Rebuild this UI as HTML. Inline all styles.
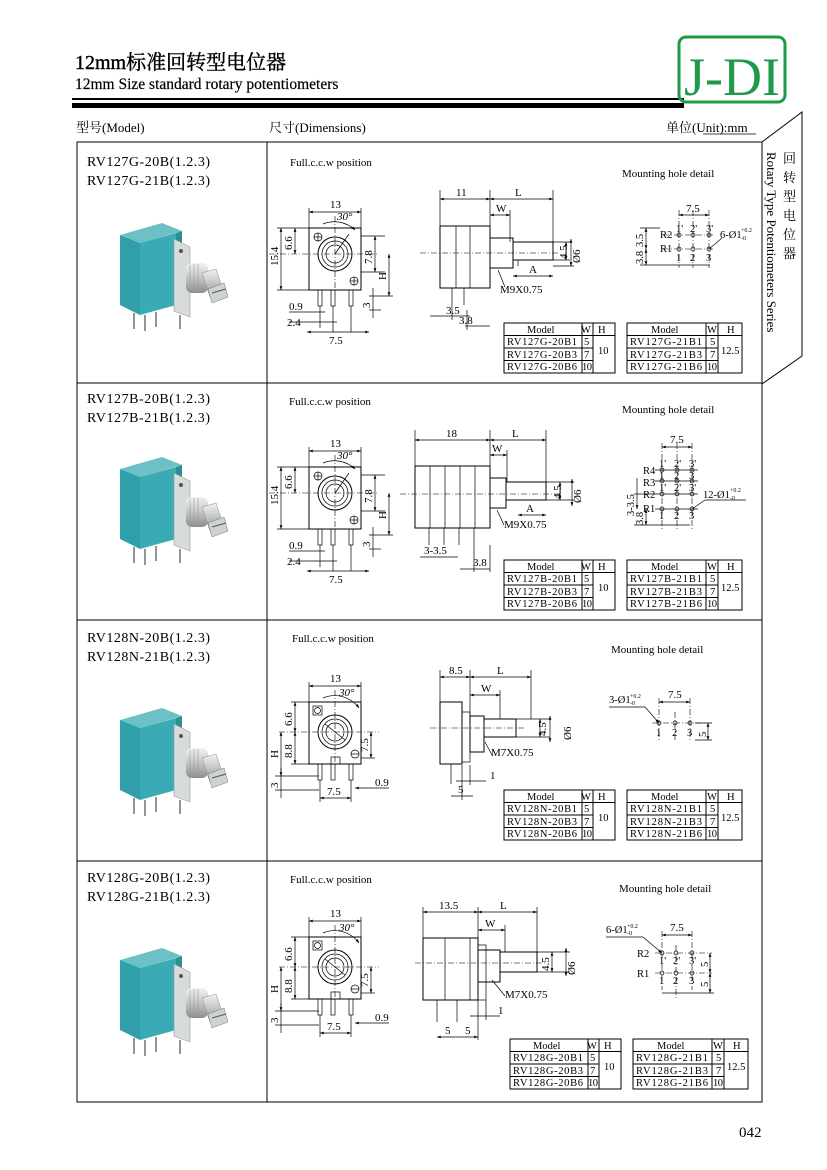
<!DOCTYPE html>
<html><head><meta charset="utf-8"><style>
html,body{margin:0;padding:0;background:#fff}
svg{display:block}
text{font-family:"Liberation Serif","Noto Serif CJK SC","Noto Sans CJK SC",serif;fill:#000}
.s{font-size:11px}
.m{font-size:10.5px}
.d{font-size:11px}
.ln{stroke:#000;stroke-width:1;fill:none}
.th{stroke:#000;stroke-width:0.7;fill:none}
.cl{stroke:#000;stroke-width:0.6;stroke-dasharray:6 2 1 2;fill:none}
.tb text{font-size:10.5px}
</style></head><body>
<svg width="827" height="1170" viewBox="0 0 827 1170" xmlns="http://www.w3.org/2000/svg">
<defs>
<marker id="a" viewBox="0 0 8 6" refX="8" refY="3" markerWidth="6" markerHeight="4" orient="auto-start-reverse"><path d="M0,0 L8,3 L0,6 z" fill="#000"/></marker>
<linearGradient id="sv" x1="0" y1="0" x2="0" y2="1"><stop offset="0" stop-color="#f2f2f2"/><stop offset="0.5" stop-color="#c4c6c6"/><stop offset="1" stop-color="#8c8e8e"/></linearGradient>
<g id="photo">
  <polygon points="30,42 72,30 92,38 50,50" fill="#6cc0c6"/>
  <polygon points="30,42 50,50 50,122 30,112" fill="#2f9faa"/>
  <polygon points="50,50 86,40 86,112 50,122" fill="#3aaab5"/>
  <polygon points="86,40 92,38 92,110 86,112" fill="#2b8e98"/>
  <polygon points="84,46 100,54 100,124 84,118" fill="#d8dbdb" stroke="#9a9a9a" stroke-width="0.6"/>
  <circle cx="91" cy="58" r="2" fill="#555"/>
  <rect x="96" y="70" width="22" height="30" rx="6" fill="url(#sv)"/>
  <line x1="100" y1="72" x2="100" y2="98" stroke="#999" stroke-width="0.6"/>
  <line x1="104" y1="71" x2="104" y2="99" stroke="#999" stroke-width="0.6"/>
  <line x1="108" y1="71" x2="108" y2="99" stroke="#999" stroke-width="0.6"/>
  <polygon points="112,80 126,76 134,100 120,104" fill="url(#sv)" stroke="#888" stroke-width="0.5"/>
  <polygon points="118,96 134,90 138,104 122,110" fill="#cfd2d2" stroke="#777" stroke-width="0.5"/>
  <line x1="122" y1="100" x2="136" y2="96" stroke="#555" stroke-width="1"/>
  <line x1="44" y1="120" x2="44" y2="136" stroke="#666" stroke-width="1.4"/>
  <line x1="55" y1="122" x2="55" y2="138" stroke="#666" stroke-width="1.4"/>
  <line x1="66" y1="119" x2="66" y2="134" stroke="#666" stroke-width="1.4"/>
  <line x1="90" y1="122" x2="90" y2="136" stroke="#666" stroke-width="1.4"/>
</g>
<g id="tl">
  <rect x="0" y="0" width="111" height="50" class="ln"/>
  <line x1="0" y1="12.5" x2="111" y2="12.5" class="ln"/>
  <line x1="0" y1="25" x2="89" y2="25" class="ln"/>
  <line x1="0" y1="37.5" x2="89" y2="37.5" class="ln"/>
  <line x1="78" y1="0" x2="78" y2="50" class="ln"/>
  <line x1="89" y1="0" x2="89" y2="50" class="ln"/>
</g>
<g id="tr">
  <rect x="0" y="0" width="115" height="50" class="ln"/>
  <line x1="0" y1="12.5" x2="115" y2="12.5" class="ln"/>
  <line x1="0" y1="25" x2="91" y2="25" class="ln"/>
  <line x1="0" y1="37.5" x2="91" y2="37.5" class="ln"/>
  <line x1="79" y1="0" x2="79" y2="50" class="ln"/>
  <line x1="91" y1="0" x2="91" y2="50" class="ln"/>
</g>
<g id="fa">
  <rect x="0" y="0" width="52" height="62" class="ln"/>
  <circle cx="26" cy="26" r="17" class="ln"/><circle cx="26" cy="26" r="13" class="th"/><circle cx="26" cy="26" r="9" class="th"/>
  <circle cx="9" cy="9" r="4" class="th"/><line x1="5" y1="9" x2="13" y2="9" class="th"/><line x1="9" y1="5" x2="9" y2="13" class="th"/>
  <circle cx="45" cy="53" r="4" class="th"/><line x1="41" y1="53" x2="49" y2="53" class="th"/><line x1="45" y1="49" x2="45" y2="57" class="th"/>
  <rect x="9" y="62" width="4" height="16" class="th"/><rect x="22" y="62" width="4" height="16" class="th"/><rect x="40" y="62" width="4" height="16" class="th"/>
  <line x1="-40" y1="26" x2="70" y2="26" class="cl"/><line x1="26" y1="-12" x2="26" y2="62" class="cl"/>
  <line x1="26" y1="26" x2="40" y2="6" class="th"/>
  <path d="M14,-4 A30,30 0 0 1 46,2" class="th" marker-end="url(#a)"/>
  <line x1="0" y1="-20" x2="0" y2="0" class="th"/><line x1="52" y1="-20" x2="52" y2="0" class="th"/>
  <line x1="0" y1="-16" x2="52" y2="-16" class="th" marker-start="url(#a)" marker-end="url(#a)"/>
  <line x1="-32" y1="0" x2="0" y2="0" class="th"/><line x1="-32" y1="62" x2="0" y2="62" class="th"/>
  <line x1="-28" y1="0" x2="-28" y2="62" class="th" marker-start="url(#a)" marker-end="url(#a)"/>
  <line x1="-14" y1="0" x2="-14" y2="26" class="th" marker-start="url(#a)" marker-end="url(#a)"/>
  <line x1="52" y1="8" x2="76" y2="8" class="th"/><line x1="52" y1="44" x2="76" y2="44" class="th"/>
  <line x1="66" y1="8" x2="66" y2="44" class="th" marker-start="url(#a)" marker-end="url(#a)"/>
  <line x1="80" y1="26" x2="80" y2="68" class="th" marker-start="url(#a)" marker-end="url(#a)"/>
  <line x1="60" y1="68" x2="84" y2="68" class="th"/><line x1="60" y1="82" x2="72" y2="82" class="th"/>
  <line x1="64" y1="60" x2="64" y2="90" class="th"/>
  <line x1="-20" y1="84" x2="16" y2="84" class="th"/><line x1="-20" y1="94" x2="28" y2="94" class="th"/>
  <line x1="11" y1="78" x2="11" y2="100" class="th"/><line x1="24" y1="78" x2="24" y2="104" class="th"/><line x1="42" y1="78" x2="42" y2="104" class="th"/>
  <line x1="-2" y1="104" x2="60" y2="104" class="th" marker-start="url(#a)" marker-end="url(#a)"/>
  <text class="d" x="21" y="-20">13</text>
  <text class="d" x="28" y="-8" font-style="italic">30°</text>
  <text class="d" transform="translate(-31,38) rotate(-90)">15.4</text>
  <text class="d" transform="translate(-17,22) rotate(-90)">6.6</text>
  <text class="d" transform="translate(63,36) rotate(-90)">7.8</text>
  <text class="d" transform="translate(77,52) rotate(-90)">H</text>
  <text class="d" transform="translate(61,80) rotate(-90)">3</text>
  <text class="d" x="-20" y="82">0.9</text>
  <text class="d" x="-22" y="98">2.4</text>
  <text class="d" x="20" y="116">7.5</text>
</g>
<g id="fb">
  <rect x="0" y="0" width="52" height="62" class="ln"/>
  <circle cx="26" cy="30" r="17" class="ln"/><circle cx="26" cy="30" r="13" class="th"/><circle cx="26" cy="30" r="9" class="th"/>
  <line x1="16" y1="22" x2="36" y2="38" class="th"/>
  <rect x="4" y="4" width="9" height="9" class="th"/><circle cx="8.5" cy="8.5" r="3" class="th"/>
  <circle cx="46" cy="52" r="4" class="th"/><line x1="42" y1="52" x2="50" y2="52" class="th"/>
  <rect x="22" y="55" width="9" height="7" class="th"/>
  <rect x="9" y="62" width="4" height="16" class="th"/><rect x="22" y="62" width="4" height="16" class="th"/><rect x="40" y="62" width="4" height="16" class="th"/>
  <line x1="-30" y1="30" x2="70" y2="30" class="cl"/><line x1="26" y1="-12" x2="26" y2="62" class="cl"/>
  <path d="M14,-4 A30,30 0 0 1 50,6" class="th" marker-end="url(#a)"/>
  <line x1="0" y1="-20" x2="0" y2="0" class="th"/><line x1="52" y1="-20" x2="52" y2="0" class="th"/>
  <line x1="0" y1="-16" x2="52" y2="-16" class="th" marker-start="url(#a)" marker-end="url(#a)"/>
  <line x1="-18" y1="0" x2="0" y2="0" class="th"/><line x1="-18" y1="62" x2="0" y2="62" class="th"/>
  <line x1="-14" y1="0" x2="-14" y2="30" class="th" marker-start="url(#a)" marker-end="url(#a)"/>
  <line x1="-14" y1="30" x2="-14" y2="62" class="th" marker-start="url(#a)" marker-end="url(#a)"/>
  <line x1="-28" y1="30" x2="-28" y2="74" class="th" marker-start="url(#a)" marker-end="url(#a)"/>
  <line x1="-34" y1="74" x2="10" y2="74" class="th"/><line x1="-34" y1="88" x2="10" y2="88" class="th"/>
  <line x1="-28" y1="66" x2="-28" y2="96" class="th"/>
  <line x1="52" y1="56" x2="66" y2="56" class="th"/>
  <line x1="62" y1="30" x2="62" y2="56" class="th" marker-start="url(#a)" marker-end="url(#a)"/>
  <line x1="46" y1="86" x2="80" y2="86" class="th" marker-start="url(#a)"/>
  <line x1="11" y1="78" x2="11" y2="100" class="th"/><line x1="42" y1="78" x2="42" y2="100" class="th"/>
  <line x1="11" y1="96" x2="42" y2="96" class="th" marker-start="url(#a)" marker-end="url(#a)"/>
  <text class="d" x="21" y="-20">13</text>
  <text class="d" x="30" y="-6" font-style="italic">30°</text>
  <text class="d" transform="translate(-17,24) rotate(-90)">6.6</text>
  <text class="d" transform="translate(-17,56) rotate(-90)">8.8</text>
  <text class="d" transform="translate(-31,56) rotate(-90)">H</text>
  <text class="d" transform="translate(-31,86) rotate(-90)">3</text>
  <text class="d" transform="translate(59,50) rotate(-90)">7.5</text>
  <text class="d" x="66" y="84">0.9</text>
  <text class="d" x="18" y="93">7.5</text>
</g>
</defs>

<!-- header -->
<text x="75" y="69" font-size="20" stroke="#000" stroke-width="0.4">12mm标准回转型电位器</text>
<text x="75" y="89" font-size="15.5" stroke="#000" stroke-width="0.2">12mm Size  standard  rotary  potentiometers</text>
<rect x="72" y="98" width="612" height="2" fill="#000"/>
<rect x="72" y="103" width="612" height="5" fill="#000"/>
<rect x="679" y="37" width="106" height="65" rx="7" fill="none" stroke="#1f9a4a" stroke-width="3"/>
<text x="684" y="95" font-size="54" style="fill:#1f9a4a" textLength="96" lengthAdjust="spacingAndGlyphs">J-DI</text>
<text x="76" y="132" font-size="13">型号(Model)</text>
<text x="269" y="132" font-size="13">尺寸(Dimensions)</text>
<text x="666" y="132" font-size="13">单位(Unit):mm</text>
<line x1="703" y1="134" x2="756" y2="134" stroke="#000" stroke-width="0.8"/>

<!-- frame -->
<rect x="77" y="142" width="685" height="960" class="ln" stroke-width="1.3"/>
<line x1="267" y1="142" x2="267" y2="1102" class="ln" stroke-width="1.3"/>
<line x1="77" y1="383" x2="762" y2="383" class="ln" stroke-width="1.3"/>
<line x1="77" y1="620" x2="762" y2="620" class="ln" stroke-width="1.3"/>
<line x1="77" y1="861" x2="762" y2="861" class="ln" stroke-width="1.3"/>
<polyline points="762,142 802,112 802,356 762,384" class="ln" stroke-width="1.3"/>
<text font-size="13" x="783" y="163">回</text>
<text font-size="13" x="783" y="182">转</text>
<text font-size="13" x="783" y="201">型</text>
<text font-size="13" x="783" y="220">电</text>
<text font-size="13" x="783" y="239">位</text>
<text font-size="13" x="783" y="258">器</text>
<text font-size="13" transform="translate(767,152) rotate(90)">Rotary Type Potentiometers Series</text>

<!-- left column -->
<text x="87" y="166" font-size="14" textLength="123">RV127G-20B(1.2.3)</text>
<text x="87" y="185" font-size="14" textLength="123">RV127G-21B(1.2.3)</text>
<use href="#photo" x="90" y="193"/>
<text x="87" y="403" font-size="14" textLength="123">RV127B-20B(1.2.3)</text>
<text x="87" y="422" font-size="14" textLength="123">RV127B-21B(1.2.3)</text>
<use href="#photo" x="90" y="427"/>
<text x="87" y="642" font-size="14" textLength="123">RV128N-20B(1.2.3)</text>
<text x="87" y="661" font-size="14" textLength="123">RV128N-21B(1.2.3)</text>
<use href="#photo" x="90" y="678"/>
<text x="87" y="882" font-size="14" textLength="123">RV128G-20B(1.2.3)</text>
<text x="87" y="901" font-size="14" textLength="123">RV128G-21B(1.2.3)</text>
<use href="#photo" x="90" y="918"/>

<!-- ROW 1 -->
<text class="s" x="290" y="166">Full.c.c.w position</text>
<text class="s" x="622" y="177">Mounting  hole  detail</text>
<use href="#fa" x="309" y="228"/>
<g>
  <rect x="440" y="226" width="50" height="62" class="ln"/>
  <line x1="456" y1="226" x2="456" y2="288" class="th"/><line x1="470" y1="226" x2="470" y2="288" class="th"/>
  <rect x="490" y="238" width="23" height="30" class="ln"/>
  <rect x="513" y="242" width="40" height="18" class="ln"/>
  <line x1="518" y1="260" x2="518" y2="266" class="th"/>
  <line x1="420" y1="253" x2="560" y2="253" class="cl"/>
  <line x1="452" y1="288" x2="452" y2="305" class="th"/><line x1="464" y1="288" x2="464" y2="305" class="th"/>
  <line x1="440" y1="190" x2="440" y2="226" class="th"/><line x1="490" y1="190" x2="490" y2="238" class="th"/><line x1="553" y1="190" x2="553" y2="242" class="th"/>
  <line x1="440" y1="199" x2="490" y2="199" class="th" marker-start="url(#a)" marker-end="url(#a)"/>
  <line x1="490" y1="199" x2="553" y2="199" class="th" marker-start="url(#a)" marker-end="url(#a)"/>
  <line x1="490" y1="215" x2="510" y2="215" class="th" marker-start="url(#a)" marker-end="url(#a)"/>
  <line x1="510" y1="210" x2="510" y2="242" class="th"/>
  <line x1="513" y1="276" x2="553" y2="276" class="th" marker-start="url(#a)" marker-end="url(#a)"/>
  <line x1="553" y1="242" x2="570" y2="242" class="th"/><line x1="553" y1="260" x2="570" y2="260" class="th"/><line x1="553" y1="266" x2="574" y2="266" class="th"/>
  <line x1="566" y1="242" x2="566" y2="260" class="th" marker-start="url(#a)" marker-end="url(#a)"/>
  <line x1="571" y1="239" x2="571" y2="266" class="th" marker-start="url(#a)" marker-end="url(#a)"/>
  <line x1="498" y1="270" x2="505" y2="287" class="th"/>
  <text class="d" x="456" y="196">11</text><text class="d" x="515" y="196">L</text>
  <text class="d" x="496" y="212">W</text><text class="d" x="529" y="273">A</text>
  <text class="d" transform="translate(567,259) rotate(-90)">4.5</text>
  <text class="d" transform="translate(580,263) rotate(-90)">Ø6</text>
  <text class="d" x="500" y="293">M9X0.75</text>
  <line x1="430" y1="316" x2="470" y2="316" class="th"/><line x1="452" y1="305" x2="452" y2="320" class="th"/>
  <line x1="465" y1="326" x2="490" y2="326" class="th"/><line x1="467" y1="310" x2="467" y2="330" class="th"/>
  <text class="d" x="446" y="314">3.5</text><text class="d" x="459" y="324">3.8</text>
</g>
<g>
  <line x1="679" y1="215" x2="709" y2="215" class="th" marker-start="url(#a)" marker-end="url(#a)"/>
  <text class="d" x="686" y="212">7.5</text>
  <line x1="679" y1="210" x2="679" y2="268" class="cl"/><line x1="693" y1="210" x2="693" y2="268" class="cl"/><line x1="709" y1="210" x2="709" y2="268" class="cl"/>
  <line x1="663" y1="235" x2="715" y2="235" class="cl"/><line x1="663" y1="249" x2="715" y2="249" class="cl"/>
  <circle cx="679" cy="235" r="2" class="th"/><circle cx="693" cy="235" r="2" class="th"/><circle cx="709" cy="235" r="2" class="th"/>
  <circle cx="679" cy="249" r="2" class="th"/><circle cx="693" cy="249" r="2" class="th"/><circle cx="709" cy="249" r="2" class="th"/>
  <text class="m" x="676" y="232">1'</text><text class="m" x="690" y="232">2'</text><text class="m" x="706" y="232">3'</text>
  <text class="m" x="676" y="261">1</text><text class="m" x="690" y="261">2</text><text class="m" x="706" y="261">3</text>
  <text class="m" x="660" y="238">R2</text><text class="m" x="660" y="252">R1</text>
  <text class="m" x="720" y="238">6-Ø1</text><text font-size="6" x="741" y="232">+0.2</text><text font-size="6" x="741" y="240">-0</text>
  <line x1="709" y1="249" x2="722" y2="238" class="th"/>
  <line x1="640" y1="228" x2="660" y2="228" class="th"/><line x1="640" y1="265" x2="710" y2="265" class="th"/>
  <line x1="646" y1="228" x2="646" y2="249" class="th" marker-start="url(#a)" marker-end="url(#a)"/>
  <line x1="646" y1="249" x2="646" y2="265" class="th" marker-start="url(#a)" marker-end="url(#a)"/>
  <text class="m" transform="translate(643,247) rotate(-90)">3.5</text>
  <text class="m" transform="translate(643,264) rotate(-90)">3.8</text>
</g>
<use href="#tl" x="504" y="323"/><use href="#tr" x="627" y="323"/>
<g class="tb">
<text x="527" y="333">Model</text><text x="581" y="333">W</text><text x="598" y="333">H</text>
<text x="507" y="345" textLength="70">RV127G-20B1</text><text x="584" y="345">5</text>
<text x="507" y="358" textLength="70">RV127G-20B3</text><text x="584" y="358">7</text><text x="598" y="354">10</text>
<text x="507" y="370" textLength="70">RV127G-20B6</text><text x="582" y="370" textLength="10">10</text>
<text x="651" y="333">Model</text><text x="707" y="333">W</text><text x="727" y="333">H</text>
<text x="630" y="345" textLength="72">RV127G-21B1</text><text x="710" y="345">5</text>
<text x="630" y="358" textLength="72">RV127G-21B3</text><text x="710" y="358">7</text><text x="721" y="354">12.5</text>
<text x="630" y="370" textLength="72">RV127G-21B6</text><text x="707" y="370" textLength="10">10</text>
</g>

<!-- ROW 2 -->
<text class="s" x="289" y="405">Full.c.c.w position</text>
<text class="s" x="622" y="413">Mounting  hole  detail</text>
<use href="#fa" x="309" y="467"/>
<g>
  <rect x="415" y="466" width="75" height="62" class="ln"/>
  <line x1="430" y1="466" x2="430" y2="528" class="th"/><line x1="445" y1="466" x2="445" y2="528" class="th"/><line x1="460" y1="466" x2="460" y2="528" class="th"/><line x1="475" y1="466" x2="475" y2="528" class="th"/>
  <rect x="490" y="478" width="16" height="30" class="ln"/>
  <rect x="506" y="482" width="40" height="18" class="ln"/>
  <line x1="400" y1="494" x2="560" y2="494" class="cl"/>
  <line x1="429" y1="528" x2="429" y2="545" class="th"/><line x1="444" y1="528" x2="444" y2="545" class="th"/><line x1="459" y1="528" x2="459" y2="545" class="th"/><line x1="474" y1="528" x2="474" y2="545" class="th"/>
  <line x1="415" y1="430" x2="415" y2="466" class="th"/><line x1="490" y1="430" x2="490" y2="478" class="th"/><line x1="546" y1="430" x2="546" y2="482" class="th"/>
  <line x1="415" y1="440" x2="490" y2="440" class="th" marker-start="url(#a)" marker-end="url(#a)"/>
  <line x1="490" y1="440" x2="546" y2="440" class="th" marker-start="url(#a)" marker-end="url(#a)"/>
  <line x1="490" y1="455" x2="507" y2="455" class="th" marker-start="url(#a)" marker-end="url(#a)"/>
  <line x1="507" y1="450" x2="507" y2="482" class="th"/>
  <line x1="518" y1="515" x2="546" y2="515" class="th" marker-start="url(#a)" marker-end="url(#a)"/>
  <line x1="546" y1="482" x2="574" y2="482" class="th"/><line x1="546" y1="500" x2="574" y2="500" class="th"/>
  <line x1="560" y1="482" x2="560" y2="500" class="th" marker-start="url(#a)" marker-end="url(#a)"/>
  <line x1="572" y1="479" x2="572" y2="506" class="th" marker-start="url(#a)" marker-end="url(#a)"/>
  <line x1="497" y1="510" x2="504" y2="525" class="th"/>
  <text class="d" x="446" y="437">18</text><text class="d" x="512" y="437">L</text>
  <text class="d" x="492" y="452">W</text><text class="d" x="526" y="512">A</text>
  <text class="d" transform="translate(561,499) rotate(-90)">4.5</text>
  <text class="d" transform="translate(581,503) rotate(-90)">Ø6</text>
  <text class="d" x="504" y="528">M9X0.75</text>
  <line x1="420" y1="557" x2="458" y2="557" class="th"/>
  <line x1="460" y1="569" x2="490" y2="569" class="th"/><line x1="474" y1="545" x2="474" y2="572" class="th"/><line x1="490" y1="545" x2="490" y2="572" class="th"/>
  <text class="d" x="424" y="554">3-3.5</text><text class="d" x="473" y="566">3.8</text>
</g>
<g>
  <line x1="662" y1="447" x2="692" y2="447" class="th" marker-start="url(#a)" marker-end="url(#a)"/>
  <text class="d" x="670" y="443">7.5</text>
  <line x1="662" y1="443" x2="662" y2="530" class="cl"/><line x1="677" y1="443" x2="677" y2="530" class="cl"/><line x1="692" y1="443" x2="692" y2="530" class="cl"/>
  <g class="th">
  <circle cx="662" cy="470" r="2"/><circle cx="677" cy="470" r="2"/><circle cx="692" cy="470" r="2"/>
  <circle cx="662" cy="481" r="2"/><circle cx="677" cy="481" r="2"/><circle cx="692" cy="481" r="2"/>
  <circle cx="662" cy="494" r="2"/><circle cx="677" cy="494" r="2"/><circle cx="692" cy="494" r="2"/>
  <circle cx="662" cy="509" r="2"/><circle cx="677" cy="509" r="2"/><circle cx="692" cy="509" r="2"/>
  </g>
  <line x1="655" y1="470" x2="698" y2="470" class="th"/><line x1="655" y1="481" x2="698" y2="481" class="th"/><line x1="655" y1="494" x2="698" y2="494" class="th"/><line x1="655" y1="509" x2="698" y2="509" class="th"/>
  <text class="m" x="659" y="467">1'</text><text class="m" x="674" y="467">2'</text><text class="m" x="689" y="467">3'</text>
  <text class="m" x="659" y="479">1</text><text class="m" x="674" y="479">2</text><text class="m" x="689" y="479">3</text>
  <text class="m" x="659" y="491">1'</text><text class="m" x="674" y="491">2'</text><text class="m" x="689" y="491">3'</text>
  <text class="m" x="659" y="519">1</text><text class="m" x="674" y="519">2</text><text class="m" x="689" y="519">3</text>
  <text class="m" x="643" y="474">R4</text><text class="m" x="643" y="486">R3</text><text class="m" x="643" y="498">R2</text><text class="m" x="643" y="512">R1</text>
  <text class="m" x="703" y="498">12-Ø1</text><text font-size="6" x="730" y="492">+0.2</text><text font-size="6" x="730" y="500">-0</text>
  <line x1="692" y1="509" x2="705" y2="500" class="th"/><line x1="705" y1="500" x2="746" y2="500" class="th"/>
  <line x1="634" y1="494" x2="655" y2="494" class="th"/><line x1="634" y1="525" x2="690" y2="525" class="th"/>
  <line x1="637" y1="478" x2="637" y2="509" class="th" marker-end="url(#a)"/>
  <line x1="646" y1="509" x2="646" y2="525" class="th" marker-start="url(#a)" marker-end="url(#a)"/>
  <text class="m" transform="translate(634,516) rotate(-90)">3-3.5</text>
  <text class="m" transform="translate(643,525) rotate(-90)">3.8</text>
</g>
<use href="#tl" x="504" y="560"/><use href="#tr" x="627" y="560"/>
<g class="tb">
<text x="527" y="570">Model</text><text x="581" y="570">W</text><text x="598" y="570">H</text>
<text x="507" y="582" textLength="70">RV127B-20B1</text><text x="584" y="582">5</text>
<text x="507" y="595" textLength="70">RV127B-20B3</text><text x="584" y="595">7</text><text x="598" y="591">10</text>
<text x="507" y="607" textLength="70">RV127B-20B6</text><text x="582" y="607" textLength="10">10</text>
<text x="651" y="570">Model</text><text x="707" y="570">W</text><text x="727" y="570">H</text>
<text x="630" y="582" textLength="72">RV127B-21B1</text><text x="710" y="582">5</text>
<text x="630" y="595" textLength="72">RV127B-21B3</text><text x="710" y="595">7</text><text x="721" y="591">12.5</text>
<text x="630" y="607" textLength="72">RV127B-21B6</text><text x="707" y="607" textLength="10">10</text>
</g>

<!-- ROW 3 -->
<text class="s" x="292" y="642">Full.c.c.w position</text>
<text class="s" x="611" y="653">Mounting  hole  detail</text>
<use href="#fb" x="309" y="702"/>
<g>
  <rect x="440" y="702" width="22" height="62" class="ln"/>
  <rect x="462" y="712" width="8" height="50" class="th"/>
  <rect x="470" y="716" width="14" height="36" class="ln"/>
  <rect x="484" y="719" width="32" height="18" class="ln"/>
  <line x1="430" y1="728" x2="525" y2="728" class="cl"/>
  <line x1="451" y1="764" x2="451" y2="784" class="th"/>
  <line x1="440" y1="670" x2="440" y2="702" class="th"/><line x1="470" y1="670" x2="470" y2="716" class="th"/><line x1="531" y1="670" x2="531" y2="719" class="th"/>
  <line x1="440" y1="677" x2="470" y2="677" class="th" marker-start="url(#a)" marker-end="url(#a)"/>
  <line x1="470" y1="677" x2="531" y2="677" class="th" marker-start="url(#a)" marker-end="url(#a)"/>
  <line x1="470" y1="695" x2="500" y2="695" class="th" marker-start="url(#a)" marker-end="url(#a)"/>
  <line x1="500" y1="690" x2="500" y2="719" class="th"/>
  <line x1="516" y1="719" x2="550" y2="719" class="th"/><line x1="516" y1="737" x2="550" y2="737" class="th"/>
  <line x1="540" y1="719" x2="540" y2="737" class="th" marker-start="url(#a)" marker-end="url(#a)"/>
  <line x1="550" y1="716" x2="550" y2="742" class="th" marker-start="url(#a)" marker-end="url(#a)"/>
  <line x1="485" y1="742" x2="492" y2="755" class="th"/>
  <text class="d" x="449" y="674">8.5</text><text class="d" x="497" y="674">L</text>
  <text class="d" x="481" y="692">W</text>
  <text class="d" transform="translate(546,736) rotate(-90)">4.5</text>
  <text class="d" transform="translate(571,740) rotate(-90)">Ø6</text>
  <text class="d" x="491" y="756">M7X0.75</text>
  <line x1="462" y1="765" x2="462" y2="800" class="th"/><line x1="470" y1="765" x2="470" y2="785" class="th"/>
  <line x1="456" y1="781" x2="486" y2="781" class="th"/><text class="d" x="490" y="779">1</text>
  <line x1="451" y1="796" x2="473" y2="796" class="th"/><text class="d" x="458" y="793">5</text>
</g>
<g>
  <line x1="659" y1="702" x2="690" y2="702" class="th" marker-start="url(#a)" marker-end="url(#a)"/>
  <text class="d" x="668" y="698">7.5</text>
  <line x1="659" y1="698" x2="659" y2="742" class="cl"/><line x1="675" y1="712" x2="675" y2="742" class="cl"/><line x1="690" y1="698" x2="690" y2="742" class="cl"/>
  <line x1="652" y1="723" x2="705" y2="723" class="cl"/>
  <circle cx="659" cy="723" r="2" class="th"/><circle cx="675" cy="723" r="2" class="th"/><circle cx="690" cy="723" r="2" class="th"/>
  <text class="m" x="656" y="736">1</text><text class="m" x="672" y="736">2</text><text class="m" x="687" y="736">3</text>
  <text class="m" x="609" y="703">3-Ø1</text><text font-size="6" x="630" y="698">+0.2</text><text font-size="6" x="630" y="705">-0</text>
  <line x1="609" y1="707" x2="645" y2="707" class="th"/><line x1="645" y1="707" x2="659" y2="723" class="th" marker-end="url(#a)"/>
  <line x1="695" y1="723" x2="712" y2="723" class="th"/><line x1="695" y1="740" x2="712" y2="740" class="th"/>
  <line x1="708" y1="723" x2="708" y2="740" class="th" marker-start="url(#a)" marker-end="url(#a)"/>
  <text class="m" transform="translate(706,737) rotate(-90)">5</text>
</g>
<use href="#tl" x="504" y="790"/><use href="#tr" x="627" y="790"/>
<g class="tb">
<text x="527" y="800">Model</text><text x="581" y="800">W</text><text x="598" y="800">H</text>
<text x="507" y="812" textLength="70">RV128N-20B1</text><text x="584" y="812">5</text>
<text x="507" y="825" textLength="70">RV128N-20B3</text><text x="584" y="825">7</text><text x="598" y="821">10</text>
<text x="507" y="837" textLength="70">RV128N-20B6</text><text x="582" y="837" textLength="10">10</text>
<text x="651" y="800">Model</text><text x="707" y="800">W</text><text x="727" y="800">H</text>
<text x="630" y="812" textLength="72">RV128N-21B1</text><text x="710" y="812">5</text>
<text x="630" y="825" textLength="72">RV128N-21B3</text><text x="710" y="825">7</text><text x="721" y="821">12.5</text>
<text x="630" y="837" textLength="72">RV128N-21B6</text><text x="707" y="837" textLength="10">10</text>
</g>

<!-- ROW 4 -->
<text class="s" x="290" y="883">Full.c.c.w position</text>
<text class="s" x="619" y="892">Mounting  hole  detail</text>
<use href="#fb" x="309" y="937"/>
<g>
  <rect x="423" y="938" width="55" height="62" class="ln"/>
  <line x1="445" y1="938" x2="445" y2="1000" class="th"/><line x1="470" y1="938" x2="470" y2="1000" class="th"/>
  <rect x="478" y="945" width="8" height="55" class="th"/>
  <rect x="478" y="950" width="22" height="32" class="ln"/>
  <rect x="500" y="952" width="37" height="20" class="ln"/>
  <line x1="415" y1="963" x2="545" y2="963" class="cl"/>
  <line x1="437" y1="1000" x2="437" y2="1022" class="th"/><line x1="457" y1="1000" x2="457" y2="1022" class="th"/>
  <line x1="423" y1="907" x2="423" y2="938" class="th"/><line x1="478" y1="907" x2="478" y2="945" class="th"/><line x1="537" y1="907" x2="537" y2="952" class="th"/>
  <line x1="423" y1="912" x2="478" y2="912" class="th" marker-start="url(#a)" marker-end="url(#a)"/>
  <line x1="478" y1="912" x2="537" y2="912" class="th" marker-start="url(#a)" marker-end="url(#a)"/>
  <line x1="478" y1="930" x2="505" y2="930" class="th" marker-start="url(#a)" marker-end="url(#a)"/>
  <line x1="505" y1="925" x2="505" y2="952" class="th"/>
  <line x1="537" y1="952" x2="570" y2="952" class="th"/><line x1="537" y1="972" x2="570" y2="972" class="th"/>
  <line x1="552" y1="952" x2="552" y2="972" class="th" marker-start="url(#a)" marker-end="url(#a)"/>
  <line x1="566" y1="948" x2="566" y2="976" class="th" marker-start="url(#a)" marker-end="url(#a)"/>
  <line x1="492" y1="980" x2="505" y2="996" class="th"/>
  <text class="d" x="439" y="909">13.5</text><text class="d" x="500" y="909">L</text>
  <text class="d" x="485" y="927">W</text>
  <text class="d" transform="translate(549,971) rotate(-90)">4.5</text>
  <text class="d" transform="translate(575,975) rotate(-90)">Ø6</text>
  <text class="d" x="505" y="998">M7X0.75</text>
  <line x1="478" y1="1000" x2="478" y2="1040" class="th"/><line x1="486" y1="1000" x2="486" y2="1020" class="th"/>
  <line x1="470" y1="1016" x2="500" y2="1016" class="th"/><text class="d" x="498" y="1014">1</text>
  <line x1="437" y1="1037" x2="478" y2="1037" class="th" marker-start="url(#a)" marker-end="url(#a)"/>
  <text class="d" x="445" y="1034">5</text><text class="d" x="465" y="1034">5</text>
</g>
<g>
  <line x1="662" y1="935" x2="692" y2="935" class="th" marker-start="url(#a)" marker-end="url(#a)"/>
  <text class="d" x="670" y="931">7.5</text>
  <line x1="662" y1="931" x2="662" y2="990" class="cl"/><line x1="676" y1="945" x2="676" y2="1000" class="cl"/><line x1="692" y1="931" x2="692" y2="990" class="cl"/>
  <line x1="655" y1="953" x2="712" y2="953" class="cl"/><line x1="655" y1="973" x2="712" y2="973" class="cl"/>
  <circle cx="662" cy="953" r="2" class="th"/><circle cx="676" cy="953" r="2" class="th"/><circle cx="692" cy="953" r="2" class="th"/>
  <circle cx="662" cy="973" r="2" class="th"/><circle cx="676" cy="973" r="2" class="th"/><circle cx="692" cy="973" r="2" class="th"/>
  <text class="m" x="659" y="964">1'</text><text class="m" x="673" y="964">2'</text><text class="m" x="689" y="964">3'</text>
  <text class="m" x="659" y="984">1</text><text class="m" x="673" y="984">2</text><text class="m" x="689" y="984">3</text>
  <text class="m" x="637" y="957">R2</text><text class="m" x="637" y="977">R1</text>
  <text class="m" x="606" y="933">6-Ø1</text><text font-size="6" x="627" y="928">+0.2</text><text font-size="6" x="627" y="935">-0</text>
  <line x1="606" y1="937" x2="643" y2="937" class="th"/><line x1="643" y1="937" x2="662" y2="953" class="th" marker-end="url(#a)"/>
  <line x1="710" y1="953" x2="710" y2="973" class="th" marker-start="url(#a)" marker-end="url(#a)"/>
  <line x1="710" y1="973" x2="710" y2="993" class="th" marker-start="url(#a)" marker-end="url(#a)"/>
  <line x1="662" y1="993" x2="714" y2="993" class="th"/>
  <text class="m" transform="translate(708,967) rotate(-90)">5</text>
  <text class="m" transform="translate(708,987) rotate(-90)">5</text>
</g>
<use href="#tl" x="510" y="1039"/><use href="#tr" x="633" y="1039"/>
<g class="tb">
<text x="533" y="1049">Model</text><text x="587" y="1049">W</text><text x="604" y="1049">H</text>
<text x="513" y="1061" textLength="70">RV128G-20B1</text><text x="590" y="1061">5</text>
<text x="513" y="1074" textLength="70">RV128G-20B3</text><text x="590" y="1074">7</text><text x="604" y="1070">10</text>
<text x="513" y="1086" textLength="70">RV128G-20B6</text><text x="588" y="1086" textLength="10">10</text>
<text x="657" y="1049">Model</text><text x="713" y="1049">W</text><text x="733" y="1049">H</text>
<text x="636" y="1061" textLength="72">RV128G-21B1</text><text x="716" y="1061">5</text>
<text x="636" y="1074" textLength="72">RV128G-21B3</text><text x="716" y="1074">7</text><text x="727" y="1070">12.5</text>
<text x="636" y="1086" textLength="72">RV128G-21B6</text><text x="713" y="1086" textLength="10">10</text>
</g>

<text x="739" y="1137" font-size="15">042</text>
</svg>
</body></html>
